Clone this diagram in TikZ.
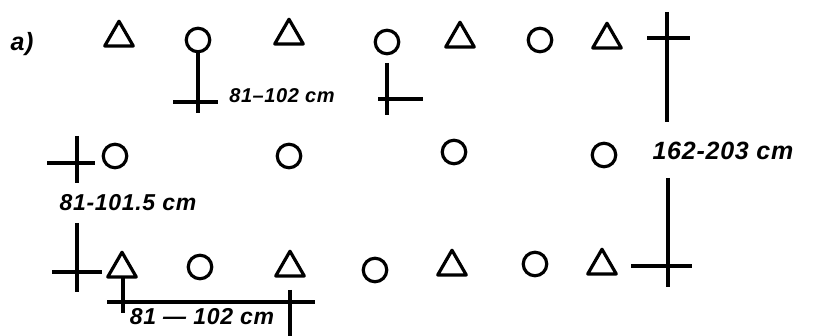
\documentclass[tikz,border=0pt]{standalone}
\usepackage{fontspec}
\setmainfont{Liberation Sans}
\usetikzlibrary{shapes.geometric}
\begin{document}
\begin{tikzpicture}[x=1pt,y=-1pt,line width=3.2pt,
  tri/.style={regular polygon,regular polygon sides=3,draw,minimum size=33pt,inner sep=0pt,outer sep=0pt,anchor=south,line join=round},
  circ/.style={circle,draw,minimum size=23.5pt,inner sep=0pt,outer sep=0pt},
  lbl/.style={font=\bfseries\itshape\addfontfeatures{LetterSpace=3}\fontsize{#1}{#1}\selectfont,inner sep=0pt},
  lbl/.default=22]
\useasboundingbox (0,0) rectangle (831,336);
% top row
\node[tri]  (t1) at (119,46) {};
\node[circ] (c1) at (198,40) {};
\node[tri]  (t2) at (289,44) {};
\node[circ] (c2) at (387,42) {};
\node[tri]  (t3) at (460,47) {};
\node[circ] (c3) at (540,40) {};
\node[tri]  (t4) at (607,48) {};
% middle row
\node[circ] (m1) at (115,156) {};
\node[circ] (m2) at (289,156) {};
\node[circ] (m3) at (454,152) {};
\node[circ] (m4) at (604,155) {};
% bottom row
\node[tri]  (b1) at (122,277) {};
\node[circ] (b2) at (200,267) {};
\node[tri]  (b3) at (290,276) {};
\node[circ] (b4) at (375,270) {};
\node[tri]  (b5) at (452,275) {};
\node[circ] (b6) at (535,264) {};
\node[tri]  (b7) at (602,274) {};
% labels
\node[lbl=25] (la) at (22,44) {a)};
\node[lbl=20] (l1) at (282,96) {81–102 cm};
\node[lbl=23] (l2) at (128,203) {81-101.5 cm};
\node[lbl=25] (l3) at (723,151) {162-203 cm};
\node[lbl=23] (l4) at (202,317) {81 — 102 cm};
% coordinates for dimension marks
\coordinate (s1) at (198,113);
\coordinate (h1a) at (173,102); \coordinate (h1b) at (218,102);
\coordinate (v2a) at (387,63);  \coordinate (v2b) at (387,115);
\coordinate (h2a) at (378,99);  \coordinate (h2b) at (423,99);
\coordinate (v3a) at (667,12);  \coordinate (v3b) at (667,122);
\coordinate (h3a) at (647,38);  \coordinate (h3b) at (690,38);
\coordinate (v4a) at (668,178); \coordinate (v4b) at (668,287);
\coordinate (h4a) at (631,266); \coordinate (h4b) at (692,266);
\coordinate (v5a) at (77,136);  \coordinate (v5b) at (77,183);
\coordinate (h5a) at (47,163);  \coordinate (h5b) at (95,163);
\coordinate (v6a) at (77,223);  \coordinate (v6b) at (77,292);
\coordinate (h6a) at (52,272);  \coordinate (h6b) at (102,272);
\coordinate (a1)  at (123,313);
\coordinate (h7a) at (107,302); \coordinate (h7b) at (315,302);
\coordinate (v7a) at (290,290); \coordinate (v7b) at (290,336);
% lines
\draw (c1.south) -- (s1);
\draw (h1a) -- (h1b);
\draw (v2a) -- (v2b);
\draw (h2a) -- (h2b);
\draw (v3a) -- (v3b);
\draw (h3a) -- (h3b);
\draw (v4a) -- (v4b);
\draw (h4a) -- (h4b);
\draw (v5a) -- (v5b);
\draw (h5a) -- (h5b);
\draw (v6a) -- (v6b);
\draw (h6a) -- (h6b);
\draw (a1) -- (a1 |- b1.south);
\draw (h7a) -- (h7b);
\draw (v7a) -- (v7b);
\end{tikzpicture}
\end{document}
